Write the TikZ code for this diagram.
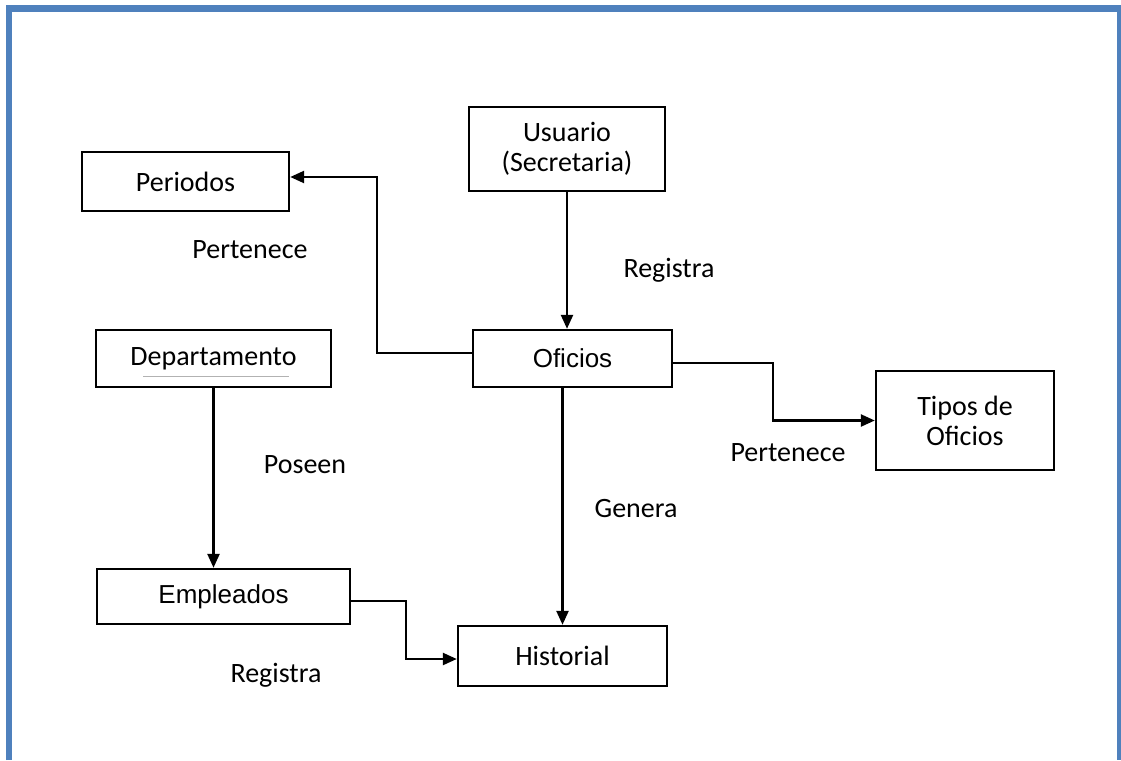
\documentclass[tikz,border=0pt]{standalone}
\usepackage{fontspec}
\setmainfont{Carlito}
\newfontfamily\arialfont{Liberation Sans}
\usepackage{xcolor}
\usepackage{tikz}
\usetikzlibrary{arrows.meta}
\definecolor{marco}{HTML}{4F81BD}

\begin{document}
\begin{tikzpicture}[x=1pt, y=-1pt,
    caja/.style={draw, line width=2.4pt, align=center, inner sep=0pt,
                 font=\fontsize{28}{30}\selectfont},
    etiqueta/.style={font=\fontsize{28}{30}\selectfont},
    flecha/.style={line width=2.4pt, -{Triangle[length=14pt, width=12pt]}}]

    \useasboundingbox (0,0) rectangle (1121,760);

    % Draw the blue frame
    \draw[marco, line width=6.5pt] (9,760) -- (9,8.5) -- (1120,8.5) -- (1120,760);

    % Draw the boxes
    \node[caja, minimum width=196pt, minimum height=84pt] (usuario) at (567,149) {Usuario\\(Secretaria)};
    \node[caja, minimum width=207pt, minimum height=59pt] (periodos) at (185.5,181.5) {Periodos};
    \node[caja, minimum width=235pt, minimum height=57pt] (depto) at (213.5,358.5) {Departamento};
    \node[caja, minimum width=199pt, minimum height=57pt, font=\arialfont\fontsize{26}{28}\selectfont] (oficios) at (572.5,358.5) {Oficios};
    \node[caja, minimum width=178pt, minimum height=99pt] (tipos) at (965,420.5) {Tipos de\\Oficios};
    \node[caja, minimum width=253pt, minimum height=55pt, font=\arialfont\fontsize{26}{28}\selectfont] (empleados) at (223.5,596.5) {Empleados};
    \node[caja, minimum width=209pt, minimum height=60pt] (historial) at (562.5,656) {Historial};

    % Underline in Departamento
    \draw[gray!60, line width=1pt] (143,376) -- (289,376);

    % Draw the arrows
    \draw[flecha] (usuario.south) -- (usuario.south |- oficios.north);
    \draw[flecha] ([yshift=5.5pt]oficios.west) -- ++(-95,0) |- ([yshift=4.5pt]periodos.east);
    \draw[flecha] ([yshift=-4.5pt]oficios.east) -- ++(100,0) |- (tipos.west);
    \draw[flecha] (oficios.south -| historial.north) -- (historial.north);
    \draw[flecha] (depto.south) -- (depto.south |- empleados.north);
    \draw[flecha] ([yshift=-4.5pt]empleados.east) -- ++(55,0) |- ([yshift=-3pt]historial.west);

    % Label the arrows
    \node[etiqueta] (pertenece1) at (250,250) {Pertenece};
    \node[etiqueta] (registra1) at (669,270) {Registra};
    \node[etiqueta] (poseen) at (305,465) {Poseen};
    \node[etiqueta] (genera) at (636,509) {Genera};
    \node[etiqueta] (pertenece2) at (788,453) {Pertenece};
    \node[etiqueta] (registra2) at (276,675) {Registra};
\end{tikzpicture}
\end{document}
